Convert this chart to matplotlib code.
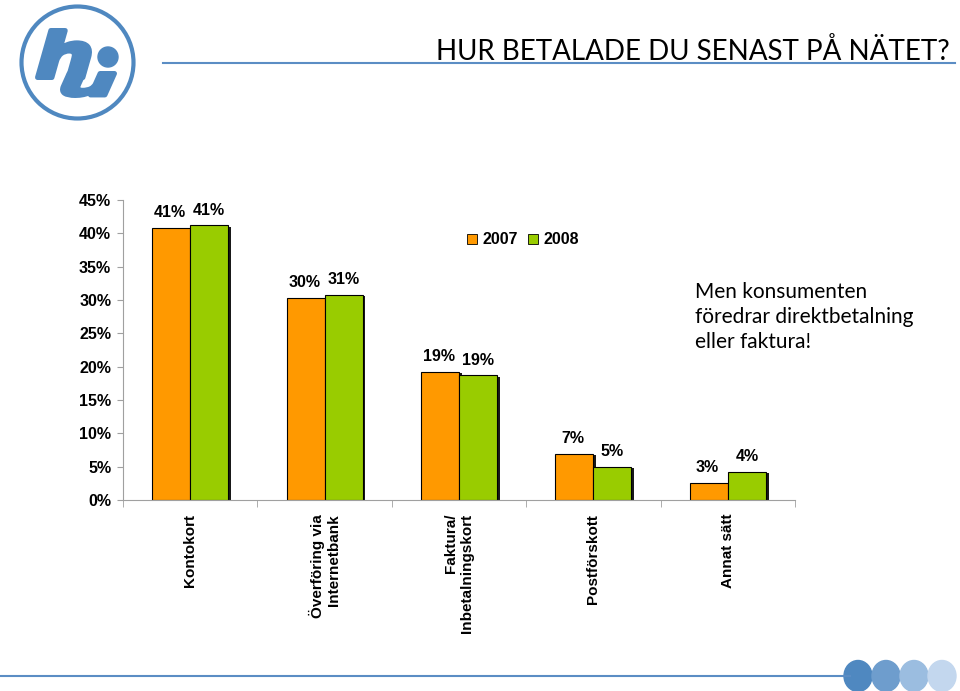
import matplotlib
matplotlib.use("Agg")
import matplotlib.pyplot as plt
from matplotlib.patches import Circle, Ellipse, PathPatch
from matplotlib.lines import Line2D
from matplotlib.textpath import TextPath
from matplotlib.font_manager import FontProperties
from matplotlib.transforms import Affine2D
import matplotlib.patheffects as pe
import numpy as np

categories = ["Kontokort", "Överföring via\nInternetbank", "Faktura/\nInbetalningskort",
              "Postförskott", "Annat sätt"]
v2007 = [0.408, 0.303, 0.192, 0.069, 0.026]
v2008 = [0.412, 0.308, 0.187, 0.050, 0.042]
lab2007 = ["41%", "30%", "19%", "7%", "3%"]
lab2008 = ["41%", "31%", "19%", "5%", "4%"]
series_names = ["2007", "2008"]
yticks = [0, 0.05, 0.10, 0.15, 0.20, 0.25, 0.30, 0.35, 0.40, 0.45]
ytick_labels = ["0%", "5%", "10%", "15%", "20%", "25%", "30%", "35%", "40%", "45%"]

C_OR = "#FF9900"
C_GR = "#99CC00"
BLUE = "#4F88C0"
FS = 11.5
FS_CAT = 11

W, H = 960, 691
fig = plt.figure(figsize=(W / 100, H / 100), dpi=100)

# background decoration axes in pixel coords
bg = fig.add_axes([0, 0, 1, 1], zorder=0)
bg.set_xlim(0, W)
bg.set_ylim(H, 0)
bg.axis("off")


def glyph(ch, x0, x1, y0, y1, thick=5.0, skew=12):
    tp = TextPath((0, 0), ch, size=50, prop=FontProperties(family="DejaVu Sans", weight="bold"))
    p = Affine2D().skew_deg(skew, 0).scale(1, -1).transform_path(tp)
    ext = p.get_extents()
    h2 = thick / 2
    sx = (x1 - x0 - thick) / ext.width
    sy = (y1 - y0 - thick) / ext.height
    t = Affine2D().translate(-ext.x0, -ext.y0).scale(sx, sy).translate(x0 + h2, y0 + h2)
    bg.add_patch(PathPatch(t.transform_path(p), fc=BLUE, ec=BLUE, lw=thick * 0.72,
                           joinstyle="round"))


# logo
bg.add_patch(Circle((77.5, 62.5), 56, fill=False, ec=BLUE, lw=3.0))
glyph("h", 35, 92, 28, 80)
glyph("u", 60, 117, 71, 98)
bg.add_patch(Circle((108, 57), 10, color=BLUE))

# title + underline
bg.text(950, 60, "HUR BETALADE DU SENAST PÅ NÄTET?", fontsize=20, family="Lato",
        ha="right", va="baseline", color="black")
bg.add_line(Line2D([163, 955], [63, 63], color="#5B8DC4", lw=1.5))

# annotation
bg.text(695, 317, "Men konsumenten\nföredrar direktbetalning\neller faktura!", fontsize=15,
        family="Lato", ha="left", va="center", linespacing=1.3, color="black")

# bottom line + circles
bg.add_line(Line2D([0, 850], [676, 676], color="#5B8DC4", lw=1.5))
for cx, col in zip([858, 886, 914, 942], ["#4F88C0", "#6E9DCD", "#9BBDE0", "#C3D7EE"]):
    bg.add_patch(Ellipse((cx, 676), 28, 31, color=col))

# main chart
ax = fig.add_axes([123 / W, 1 - 500 / H, (795 - 123) / W, 300 / H], zorder=1)
ax.patch.set_alpha(0)
x = np.arange(len(categories))
w = 0.283
shadow = [pe.SimplePatchShadow(offset=(2, -1), shadow_rgbFace="black", alpha=0.9), pe.Normal()]
ax.bar(x - w / 2, v2007, w, color=C_OR, edgecolor="black", lw=0.8, label=series_names[0],
       path_effects=shadow)
ax.bar(x + w / 2, v2008, w, color=C_GR, edgecolor="black", lw=0.8, label=series_names[1],
       path_effects=shadow)
for xi, v, t in zip(x - w / 2, v2007, lab2007):
    ax.annotate(t, (xi, v), xytext=(-1, 11), textcoords="offset points", ha="center", va="center",
                fontsize=FS, fontweight="bold", family="Liberation Sans")
for xi, v, t in zip(x + w / 2, v2008, lab2008):
    ax.annotate(t, (xi, v), xytext=(0, 11), textcoords="offset points", ha="center", va="center",
                fontsize=FS, fontweight="bold", family="Liberation Sans")

ax.set_xlim(-0.5, len(categories) - 0.5)
ax.set_ylim(0, 0.45)
ax.set_yticks(yticks)
ax.set_yticklabels(ytick_labels, fontsize=FS, fontweight="bold", family="Liberation Sans")
ax.tick_params(axis="y", length=4, color="#A0A0A0", pad=4.5)
ax.set_xticks(x)
ax.set_xticklabels(categories, rotation=90, fontsize=FS_CAT, fontweight="bold",
                   family="Liberation Sans", va="top", ha="center", multialignment="right")
ax.tick_params(axis="x", length=0, pad=10)
ax.set_xticks(np.arange(-0.5, len(categories)), minor=True)
ax.tick_params(axis="x", which="minor", length=5, color="#A0A0A0")
for s in ["top", "right"]:
    ax.spines[s].set_visible(False)
ax.spines["left"].set_color("#A0A0A0")
ax.spines["bottom"].set_color("#A0A0A0")

leg = ax.legend(loc="center", bbox_to_anchor=((523 - 123) / 672, (500 - 240) / 300), ncol=2,
                frameon=False, handlelength=0.65, handleheight=0.65, handletextpad=0.35,
                columnspacing=0.6, prop={"family": "Liberation Sans", "weight": "bold", "size": FS})
for h in leg.legend_handles:
    h.set_edgecolor("black")
    h.set_linewidth(0.6)
    h.set_path_effects([])

fig.savefig("out.png", dpi=100)
